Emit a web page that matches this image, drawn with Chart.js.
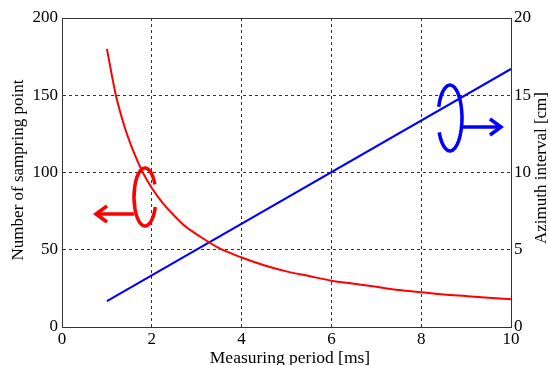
<!DOCTYPE html>
<html>
<head>
<meta charset="utf-8">
<script src="https://cdn.jsdelivr.net/npm/chart.js@4/dist/chart.umd.min.js"></script>
<style>
  html, body { margin: 0; padding: 0; background: #fff; }
  #wrap { width: 548px; height: 365px; }
</style>
</head>
<body>
<div id="wrap"><canvas id="chart" width="548" height="365"></canvas></div>
<script>
// Measuring period [ms]
const periodRed = [1, 1.2, 1.4, 1.6, 1.8, 2, 2.25, 2.5, 2.75, 3, 3.5, 4, 4.5, 5, 5.5, 6, 6.5, 7, 7.5, 8, 8.5, 9, 9.5, 10];
// Number of sampring point
const samplingPoints = [180, 150, 129, 113, 100, 90, 80, 72, 65, 60, 51, 45, 40, 36, 33, 30, 28, 26, 24, 22.5, 21, 20, 19, 18];
// Azimuth interval [cm]
const periodBlue = [1, 10];
const azimuthInterval = [1.67, 16.7];

const xTitle = 'Measuring period [ms]';
const yTitle = 'Number of sampring point';
const y2Title = 'Azimuth interval [cm]';

const FONT = "'Liberation Serif', 'DejaVu Serif', serif";

function toPoints(xs, ys) {
    return xs.map((x, i) => ({ x: x, y: ys[i] }));
}

// axis titles, open ellipse + arrow markers and the top frame line
const markerPlugin = {
    id: 'markers',
    afterDraw(chart) {
        const ctx = chart.ctx;
        const a = chart.chartArea;
        ctx.save();
        ctx.strokeStyle = '#333';
        ctx.lineWidth = 1;
        ctx.beginPath();
        ctx.moveTo(a.left, a.top + 0.5);
        ctx.lineTo(a.right, a.top + 0.5);
        ctx.stroke();

        // titles
        ctx.fillStyle = '#000';
        ctx.textAlign = 'center';
        ctx.font = '17.5px ' + FONT;
        ctx.textBaseline = 'alphabetic';
        ctx.fillText(xTitle, 290, 363);
        ctx.font = '17px ' + FONT;
        ctx.textBaseline = 'middle';
        ctx.save();
        ctx.translate(19, 170);
        ctx.rotate(-Math.PI / 2);
        ctx.fillText(yTitle, 0, 0);
        ctx.restore();
        ctx.save();
        ctx.translate(542, 168);
        ctx.rotate(-Math.PI / 2);
        ctx.fillText(y2Title, 0, 0);
        ctx.restore();

        function marker(cx, cy, rx, ry, gapStart, gapEnd, ax1, ax2, ay, color) {
            ctx.strokeStyle = color;
            ctx.lineWidth = 3.5;
            ctx.beginPath();
            ctx.ellipse(cx, cy, rx, ry, 0, gapEnd, gapStart + Math.PI * 2);
            ctx.stroke();
            ctx.beginPath();
            ctx.moveTo(ax1, ay);
            ctx.lineTo(ax2, ay);
            ctx.stroke();
            const dir = ax2 > ax1 ? 1 : -1;
            ctx.beginPath();
            ctx.moveTo(ax2 - dir * 11, ay - 8);
            ctx.lineTo(ax2, ay);
            ctx.lineTo(ax2 - dir * 11, ay + 8);
            ctx.stroke();
        }
        // red: opening on the right
        marker(145, 197, 11, 29, -0.45, 0.35, 134, 96, 214, '#ff0000');
        // blue: opening on the left
        marker(450, 118, 12, 33, Math.PI - 0.45, Math.PI + 0.35, 463, 501, 127, '#0000ff');
        ctx.restore();
    }
};

const ctx = document.getElementById('chart').getContext('2d');
new Chart(ctx, {
    type: 'line',
    data: {
        datasets: [{
            label: yTitle,
            data: toPoints(periodRed, samplingPoints),
            borderColor: '#ff0000',
            borderWidth: 2,
            pointRadius: 0,
            cubicInterpolationMode: 'monotone',
            yAxisID: 'y'
        }, {
            label: y2Title,
            data: toPoints(periodBlue, azimuthInterval),
            borderColor: '#0000ff',
            borderWidth: 2,
            pointRadius: 0,
            yAxisID: 'y2'
        }]
    },
    options: {
        responsive: false,
        animation: false,
        layout: { padding: { top: 18, bottom: 0, left: 0, right: 0 } },
        plugins: {
            legend: { display: false },
            tooltip: { enabled: false }
        },
        scales: {
            x: {
                type: 'linear',
                min: 0,
                max: 10,
                afterFit: (s) => { s.height = 38; },
                ticks: { stepSize: 2, color: '#000', font: { family: FONT, size: 17 }, padding: 2, maxRotation: 0 },
                grid: { color: '#333', lineWidth: 1, drawTicks: false },
                border: { color: '#333', dash: [3, 3] }
            },
            y: {
                position: 'left',
                min: 0,
                max: 200,
                afterFit: (s) => { s.width = 62; },
                ticks: { stepSize: 50, color: '#000', font: { family: FONT, size: 17 }, padding: 4 },
                grid: { color: '#333', lineWidth: 1, drawTicks: false },
                border: { color: '#333', dash: [3, 3] }
            },
            y2: {
                position: 'right',
                min: 0,
                max: 20,
                afterFit: (s) => { s.width = 37; },
                ticks: { stepSize: 5, color: '#000', font: { family: FONT, size: 17 }, padding: 3 },
                grid: { display: false, drawTicks: false },
                border: { color: '#333' }
            }
        }
    },
    plugins: [markerPlugin]
});
</script>
</body>
</html>
